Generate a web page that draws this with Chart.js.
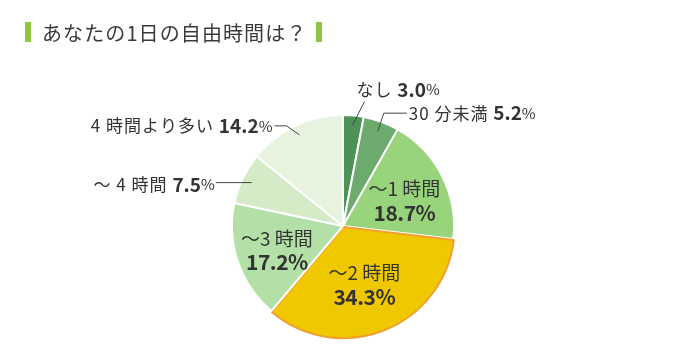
<!DOCTYPE html>
<html>
<head>
<meta charset="utf-8">
<title>あなたの1日の自由時間は？</title>
<style type="text/css">
  html, body { margin: 0; padding: 0; background: #fff; }
  #wrap { position: relative; width: 680px; height: 354px; }
  #title {
    position: absolute; left: 25px; top: 19px; height: 26px;
    display: flex; align-items: center;
    font-family: "Noto Sans CJK JP", sans-serif; font-size: 20px; color: #3a3a3a;
    letter-spacing: 1.1px;
  }
  #title .bar { display: inline-block; width: 6px; height: 20px; background: #8dc63f; }
  #title .txt { margin: 0 9px 0 11px; }
  #chart-container { position: absolute; left: 0; top: 0; width: 680px; height: 354px; }
</style>
</head>
<body>
<div id="wrap">
  <div id="chart-container"><canvas id="mycanvas" width="680" height="354"></canvas></div>
  <div id="title"><span class="bar"></span><span class="txt">あなたの1日の自由時間は？</span><span class="bar"></span></div>
</div>

<script src="https://cdn.jsdelivr.net/npm/chart.js@4/dist/chart.umd.min.js"></script>
<script>
// data
var categories = ['なし', '30 分未満', '～1 時間', '～2 時間', '～3 時間', '～ 4 時間', '4 時間より多い'];
var shares = [3.0, 5.2, 18.7, 34.3, 17.2, 7.5, 14.2];
var insideLabel = ['', '', '～1 時間', '～2 時間', '～3 時間', '', ''];

var colors = ['#4d9355', '#6cab6d', '#98d47b', '#f0c800', '#b3e0a6', '#d5eac6', '#e8f3df'];
var borders = ['#fff', '#fff', '#fff', '#f0a030', '#fff', '#fff', '#fff'];
var borderW = [2, 2, 2, 2, 2, 2, 2];
var offsets = [0, 0, 0, 4, 0, 0, 0];

// small nudges for the inside labels
var nudge = { 2: [0, 6], 3: [-4, -5], 4: [-1, 2] };

// leader lines for outside labels: points relative to anchor, text side
var leaders = {
  0: { pts: [[12, -24]], side: 'left', tx: 4, ty: -36 },
  1: { pts: [[6, -18], [29, -18]], side: 'left', tx: 31, ty: -18 },
  5: { pts: [[-36, 0]], side: 'right', tx: -37, ty: 2 },
  6: { pts: [[-13, -9], [-25, -9]], side: 'right', tx: -27, ty: -9 }
};

var FONT = '"Noto Sans CJK JP", sans-serif';

function drawParts(ctx, parts, x, y, align) {
  var total = 0;
  parts.forEach(function(p) { ctx.font = p.f; ctx.letterSpacing = p.ls || '0px'; total += ctx.measureText(p.t).width; });
  var cx = align === 'right' ? x - total : x;
  parts.forEach(function(p) {
    ctx.font = p.f;
    ctx.letterSpacing = p.ls || '0px';
    ctx.fillText(p.t, cx, y);
    cx += ctx.measureText(p.t).width;
  });
  ctx.letterSpacing = '0px';
}

var labelPlugin = {
  id: 'sliceLabels',
  afterDatasetsDraw: function(chart) {
    var ctx = chart.ctx;
    var meta = chart.getDatasetMeta(0);
    ctx.save();
    ctx.fillStyle = '#333';
    ctx.textBaseline = 'middle';
    meta.data.forEach(function(arc, i) {
      var p = arc.getProps(['x', 'y', 'startAngle', 'endAngle', 'outerRadius'], true);
      var mid = (p.startAngle + p.endAngle) / 2;
      var val = shares[i].toFixed(1);
      if (insideLabel[i]) {
        var r = p.outerRadius * 0.62;
        var n = nudge[i] || [0, 0];
        var lx = p.x + Math.cos(mid) * r + n[0];
        var ly = p.y + Math.sin(mid) * r + n[1];
        ctx.textAlign = 'center';
        ctx.font = '19px ' + FONT;
        ctx.fillText(insideLabel[i], lx, ly - 12);
        ctx.font = 'bold 21px ' + FONT;
        ctx.letterSpacing = '-0.5px';
        ctx.fillText(val + '%', lx, ly + 12);
        ctx.letterSpacing = '0px';
      } else {
        var L = leaders[i];
        var ra = p.outerRadius * 0.91;
        var ax = p.x + Math.cos(mid) * ra;
        var ay = p.y + Math.sin(mid) * ra;
        ctx.strokeStyle = '#444';
        ctx.lineWidth = 1;
        ctx.beginPath();
        ctx.moveTo(ax, ay);
        L.pts.forEach(function(q) { ctx.lineTo(ax + q[0], ay + q[1]); });
        ctx.stroke();
        ctx.textAlign = 'left';
        drawParts(ctx, [
          { t: categories[i] + ' ', f: '17px ' + FONT, ls: '1px' },
          { t: val, f: 'bold 19px ' + FONT },
          { t: '%', f: '15px ' + FONT }
        ], ax + L.tx, ay + L.ty, L.side);
      }
    });
    ctx.restore();
  }
};

var ctx = document.getElementById('mycanvas');
var pie = new Chart(ctx, {
  type: 'pie',
  data: {
    labels: categories,
    datasets: [{
      data: shares,
      backgroundColor: colors,
      borderColor: borders,
      borderWidth: borderW,
      offset: offsets,
      hoverOffset: 0
    }]
  },
  options: {
    responsive: false,
    animation: false,
    layout: { padding: { left: 229, right: 223, top: 112, bottom: 14 } },
    plugins: { legend: { display: false }, tooltip: { enabled: false }, title: { display: false } }
  },
  plugins: [labelPlugin]
});
</script>
</body>
</html>
